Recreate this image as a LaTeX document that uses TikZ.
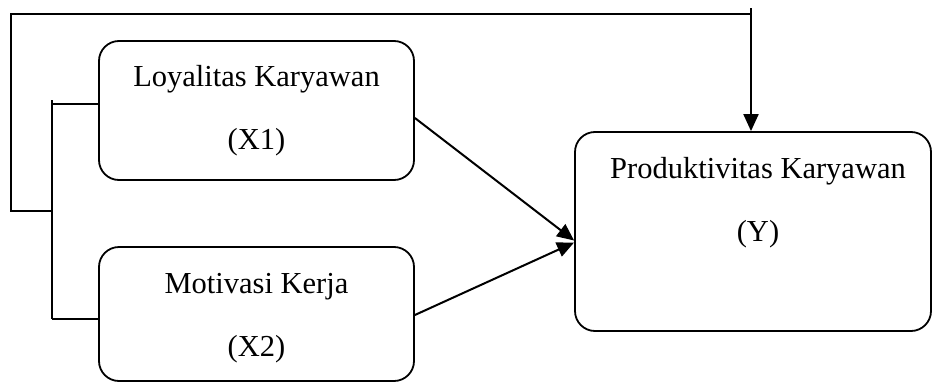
\documentclass[tikz,border=0pt]{standalone}
\usepackage{fontspec}
\setmainfont{Liberation Serif}
\usetikzlibrary{arrows.meta}
\begin{document}
\begin{tikzpicture}[x=1pt,y=-1pt,
  box/.style={draw,line width=1.8pt,rounded corners=20pt,inner sep=0pt},
  txt/.style={align=center,font=\fontsize{30.5}{63}\selectfont,inner sep=0pt},
  conn/.style={line width=2pt},
  arr/.style={line width=2pt,-{Triangle[length=17pt,width=15pt]}}]
\useasboundingbox (0,0) rectangle (932,383);
\node[box,minimum width=315pt,minimum height=139pt] (X1) at (256.5,110.5) {};
\node[box,minimum width=315pt,minimum height=134pt] (X2) at (256.5,314) {};
\node[box,minimum width=356pt,minimum height=199pt] (Y) at (753,231.5) {};
\node[txt] (X1t) at (256.5,111) {Loyalitas Karyawan\\(X1)};
\node[txt] (X2t) at (256.5,318) {Motivasi Kerja\\(X2)};
\node[txt] (Yt) at (758,203) {Produktivitas Karyawan\\(Y)};
% feedback frame
\coordinate (tk) at (751,8);
\coordinate (tr) at (751,14);
\coordinate (tl) at (11,14);
\coordinate (bl) at (11,211);
\coordinate (bm) at (52,211);
\coordinate (bt) at (52,100);
\coordinate (b1) at (52,104);
\coordinate (b2) at (52,319);
\draw[arr] (tk) -- (tk |- Y.north);
\draw[conn] (tr) -- (tl) -- (bl) -- (bm);
\draw[conn] (bt) -- (b2);
\draw[conn] (b1) -- (b1 -| X1.west);
\draw[conn] (b2) -- (b2 -| X2.west);
% arrows to Y
\draw[arr] ([yshift=-7.5pt]X1.east) -- ([yshift=-9pt]Y.west);
\draw[arr] ([yshift=-1pt]X2.east) -- ([yshift=-11pt]Y.west);
\end{tikzpicture}
\end{document}
